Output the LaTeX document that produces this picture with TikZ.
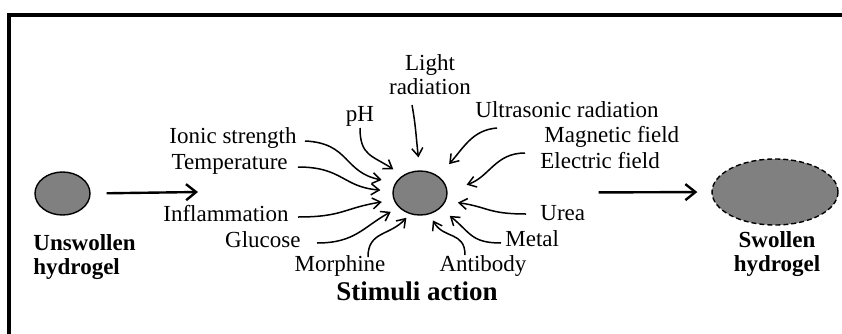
\documentclass[tikz,border=0pt]{standalone}
\usepackage{fontspec}
\setmainfont{Liberation Serif}
\usetikzlibrary{arrows.meta,shapes.geometric}

\begin{document}
\begin{tikzpicture}[
 x=0.5pt,y=-0.5pt,
 gel/.style={draw,ellipse,fill=black!50,line width=0.7pt,inner sep=0pt},
 lbl/.style={inner sep=0pt,font=\fontsize{11.5}{12}\selectfont},
 boldlbl/.style={lbl,font=\fontsize{11.5}{12}\selectfont\bfseries},
 stim/.style={-{Straight Barb[length=4pt,width=5.5pt]},line width=0.75pt},
 arr/.style={-{Straight Barb[length=5pt,width=8pt]},line width=1.2pt}
]
\useasboundingbox (0,0) rectangle (842,333);
% frame, cut by the page
\draw[line width=2pt] (9,345) -- (9,15) -- (855,15);

% hydrogels
\node[gel,minimum width=27.5pt,minimum height=21.5pt] (dry) at (62.5,193.5) {};
\node[gel,minimum width=27pt,minimum height=22pt] (gel) at (420,193) {};
\node[gel,dashed,dash pattern=on 2.5pt off 1.5pt,minimum width=63pt,minimum height=33pt] (wet) at (775,192) {};
\node[boldlbl,align=left,anchor=west] (drylbl) at (33,257) {Unswollen\\hydrogel};
\node[boldlbl,align=center] (wetlbl) at (777,254) {Swollen\\hydrogel};
\node[boldlbl,font=\fontsize{13.5}{14}\selectfont\bfseries,anchor=mid] (title) at (417,296) {Stimuli action};
\coordinate (a1) at (198,192);
\draw[arr,shorten <=8pt] (dry.east) -- (a1);
\draw[arr,shorten <=75.5pt,shorten >=7pt] (gel.east) -- (wet.west);

% stimuli
\node[lbl,align=center] (light) at (430,75) {Light\\radiation};
\node[lbl,anchor=mid] (ph) at (360,117) {pH};
\node[lbl,anchor=mid east] (ionic) at (297,139) {Ionic strength};
\node[lbl,anchor=mid east] (temp) at (288,165) {Temperature};
\node[lbl,anchor=mid east] (infl) at (289,217) {Inflammation};
\node[lbl,anchor=mid east] (gluc) at (301,243) {Glucose};
\node[lbl,anchor=mid] (morph) at (340,267) {Morphine};
\node[lbl,anchor=mid west] (ultra) at (475,113) {Ultrasonic radiation};
\node[lbl,anchor=mid west] (magn) at (544,138) {Magnetic field};
\node[lbl,anchor=mid west] (elec) at (540,164) {Electric field};
\node[lbl,anchor=mid west] (urea) at (540,216) {Urea};
\node[lbl,anchor=mid west] (metal) at (505,242) {Metal};
\node[lbl,anchor=mid] (anti) at (483,267) {Antibody};

\draw[stim,shorten >=7pt] ([shift={(8,2)}]ionic.mid east) .. controls +(45,2) and +(-52,-10) .. (gel.157);
\draw[stim,shorten >=6pt] ([shift={(10,2)}]temp.mid east) .. controls +(45,0) and +(-50,-4) .. (gel.176);
\draw[stim,shorten >=6pt] ([shift={(9,0)}]infl.mid east) .. controls +(45,0) and +(-50,8) .. (gel.195);
\draw[stim,shorten >=4.5pt] ([shift={(16,0)}]gluc.mid east) .. controls +(38,0) and +(-36,20) .. (gel.214);
\draw[stim,shorten >=2.5pt] ([shift={(28,-10)}]morph.mid) .. controls +(0,-26) and +(-20,22) .. (gel.244);
\draw[stim,shorten >=5.5pt] ([shift={(0,11)}]ph.mid) .. controls +(0,28) and +(-30,-20) .. (gel.135);
\draw[stim,shorten >=6.5pt] ([shift={(-18,30)}]light.center) .. controls +(4,22) and +(-4,-33) .. (gel.90);
\draw[stim,shorten >=8pt] ([shift={(22,15)}]ultra.mid west) .. controls +(-24,2) and +(26,-30) .. (gel.42);
\draw[stim,shorten >=10pt] ([shift={(-15,-11)}]elec.mid west) .. controls +(-30,0) and +(42,-14) .. (gel.4);
\draw[stim,shorten >=6pt] ([shift={(-14,-2)}]urea.mid west) .. controls +(-38,0) and +(42,6) .. (gel.343);
\draw[stim,shorten >=6pt] ([shift={(-4,1)}]metal.mid west) .. controls +(-30,0) and +(30,24) .. (gel.323);
\draw[stim,shorten >=3.5pt] ([shift={(-18,-12)}]anti.mid) .. controls +(0,-24) and +(14,25) .. (gel.294);
\end{tikzpicture}
\end{document}
